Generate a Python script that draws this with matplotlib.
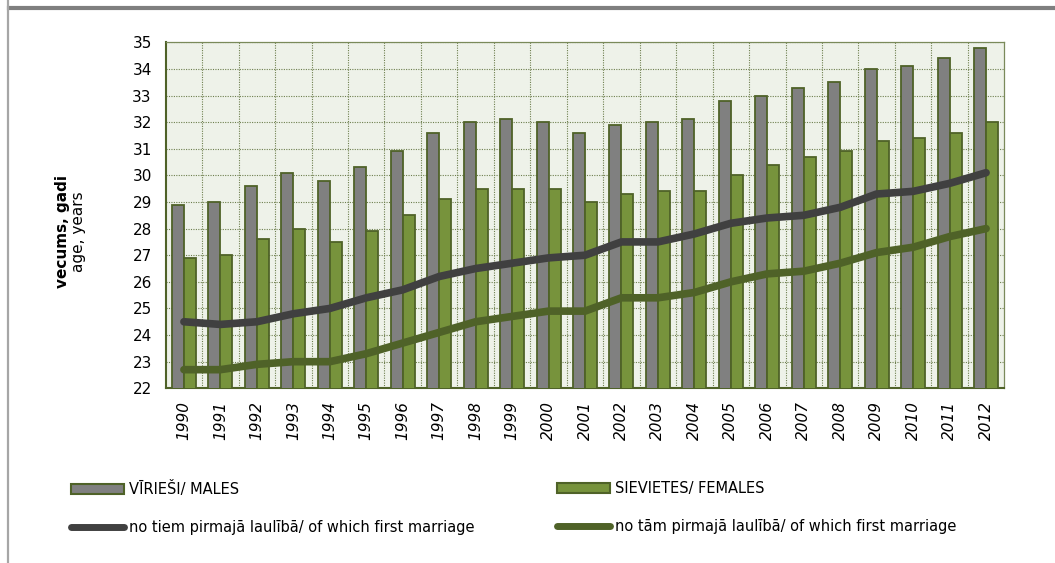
import numpy as np
import matplotlib.pyplot as plt
from matplotlib.patches import Patch
from matplotlib.lines import Line2D

# data
years = [str(y) for y in range(1990, 2013)]
males = [28.9, 29.0, 29.6, 30.1, 29.8, 30.3, 30.9, 31.6, 32.0, 32.1, 32.0, 31.6,
         31.9, 32.0, 32.1, 32.8, 33.0, 33.3, 33.5, 34.0, 34.1, 34.4, 34.8]
females = [26.9, 27.0, 27.6, 28.0, 27.5, 27.9, 28.5, 29.1, 29.5, 29.5, 29.5, 29.0,
           29.3, 29.4, 29.4, 30.0, 30.4, 30.7, 30.9, 31.3, 31.4, 31.6, 32.0]
males_first = [24.5, 24.4, 24.5, 24.8, 25.0, 25.4, 25.7, 26.2, 26.5, 26.7, 26.9, 27.0,
               27.5, 27.5, 27.8, 28.2, 28.4, 28.5, 28.8, 29.3, 29.4, 29.7, 30.1]
females_first = [22.7, 22.7, 22.9, 23.0, 23.0, 23.3, 23.7, 24.1, 24.5, 24.7, 24.9, 24.9,
                 25.4, 25.4, 25.6, 26.0, 26.3, 26.4, 26.7, 27.1, 27.3, 27.7, 28.0]

lbl_m = 'VĪRIEŠI/ MALES'
lbl_f = 'SIEVIETES/ FEMALES'
lbl_mf = 'no tiem pirmajā laulībā/ of which first marriage'
lbl_ff = 'no tām pirmajā laulībā/ of which first marriage'

c_gray = '#808080'
c_green = '#77933C'
c_edge = '#4F6228'
c_line_m = '#404040'
c_line_f = '#4F6228'

plt.rcParams['font.family'] = 'DejaVu Sans'

W, H = 1055, 563
fig = plt.figure(figsize=(W / 100, H / 100), dpi=100)
ax = fig.add_axes([165.7 / W, 1 - 388.3 / H, (1004.3 - 165.7) / W, (388.3 - 42.3) / H])
ax.set_facecolor('#EEF2E9')

x = np.arange(len(years))
bw = 0.33
ax.bar(x - bw / 2, males, bw, color=c_gray, edgecolor=c_edge, linewidth=1.3, zorder=3)
ax.bar(x + bw / 2, females, bw, color=c_green, edgecolor=c_edge, linewidth=1.3, zorder=3)
ax.plot(x, males_first, color=c_line_m, lw=5.5, solid_capstyle='round', solid_joinstyle='round', zorder=4)
ax.plot(x, females_first, color=c_line_f, lw=5.5, solid_capstyle='round', solid_joinstyle='round', zorder=4)

ax.set_xlim(-0.5, len(years) - 0.5)
ax.set_ylim(22, 35)
ax.set_yticks(np.arange(22, 36, 1))
ax.set_xticks(x)
ax.set_xticklabels(years, rotation=90, style='italic', fontsize=11)
ax.set_xticks(np.arange(0.5, len(years) - 1, 1), minor=True)
ax.tick_params(axis='y', labelsize=11, length=0, pad=10)
ax.tick_params(axis='x', which='both', length=0, pad=9)

# dotted grid: horizontal at each year of age, vertical between categories
grid_kw = dict(color='#6E7F4E', linestyle=(0, (1, 1.2)), lw=0.8, zorder=1)
ax.grid(axis='y', which='major', **grid_kw)
ax.grid(axis='x', which='minor', **grid_kw)

for s in ['top', 'right']:
    ax.spines[s].set_color('#7A8A5A')
    ax.spines[s].set_linestyle((0, (1, 1)))
    ax.spines[s].set_linewidth(0.9)
for s in ['left', 'bottom']:
    ax.spines[s].set_color(c_edge)
    ax.spines[s].set_linewidth(1.5)

fig.text(62 / W, 1 - 232 / H, 'vecums, gadi', rotation=90, fontsize=11, fontweight='bold',
         ha='center', va='center')
fig.text(79 / W, 1 - 232 / H, 'age, years', rotation=90, fontsize=11, ha='center', va='center')

# legends, two columns
h_m = Patch(facecolor=c_gray, edgecolor=c_edge, linewidth=1.5)
h_f = Patch(facecolor=c_green, edgecolor=c_edge, linewidth=1.5)
h_mf = Line2D([], [], color=c_line_m, lw=5, solid_capstyle='round')
h_ff = Line2D([], [], color=c_line_f, lw=5, solid_capstyle='round')

leg_kw = dict(loc='upper left', frameon=False, fontsize=10.5, handlelength=3.6,
              handletextpad=0.35, labelspacing=1.6, borderpad=0, borderaxespad=0)
fig.legend([h_m, h_mf], [lbl_m, lbl_mf], bbox_to_anchor=(71 / W, 1 - 481 / H), **leg_kw)
fig.legend([h_f, h_ff], [lbl_f, lbl_ff], bbox_to_anchor=(557 / W, 1 - 481 / H), **leg_kw)

# page frame lines
fig.add_artist(Line2D([9 / W, 1], [1 - 8 / H, 1 - 8 / H], transform=fig.transFigure,
                      color='#7F7F7F', lw=3))
fig.add_artist(Line2D([7.5 / W, 7.5 / W], [0, 1], transform=fig.transFigure,
                      color='#A6A6A6', lw=1.6))

fig.savefig('out.png', dpi=100)
